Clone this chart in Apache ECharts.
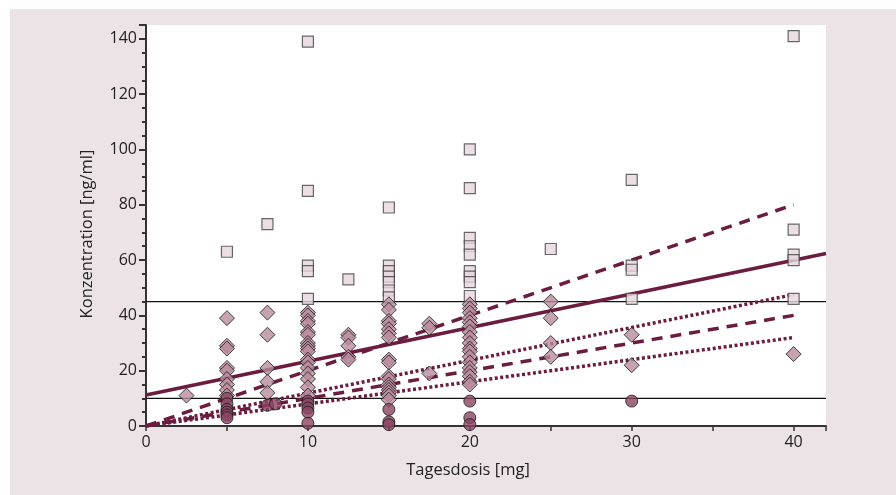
<!DOCTYPE html>
<html><head><meta charset="utf-8">
<script src="https://cdn.jsdelivr.net/npm/echarts@6/dist/echarts.min.js"></script>
<style>html,body{margin:0;padding:0;background:#fff}#c{width:896px;height:495px}</style>
</head><body><div id="c"></div>
<script>
// Squares (light)
const squareX = [5, 7.5, 10, 10, 10, 10, 10, 12.5, 15, 15, 15, 15, 15, 15, 15,
  20, 20, 20, 20, 20, 20, 20, 20, 20, 25, 30, 30, 30, 30, 40, 40, 40, 40, 40];
const squareY = [63, 73, 139, 85, 58, 56, 46, 53, 79, 58, 56, 54, 52, 49, 46.5,
  100, 86, 68, 65, 62, 56, 54, 52, 47, 64, 89, 58, 56.5, 46, 141, 71, 62, 60, 46];
// Diamonds (medium)
const diamondX = [2.5,
  5, 5, 5, 5, 5, 5, 5, 5, 5,
  7.5, 7.5, 7.5, 7.5, 7.5,
  10, 10, 10, 10, 10, 10, 10, 10, 10, 10, 10, 10, 10, 10, 10, 10, 10,
  12.5, 12.5, 12.5, 12.5, 12.5,
  15, 15, 15, 15, 15, 15, 15, 15, 15, 15, 15, 15, 15, 15, 15, 15, 15,
  17.5, 17.5, 17.5,
  20, 20, 20, 20, 20, 20, 20, 20, 20, 20, 20, 20, 20, 20, 20, 20, 20, 20,
  25, 25, 25, 25, 30, 30, 40];
const diamondY = [11,
  39, 29, 28, 21, 20, 17, 15, 13, 11,
  41, 33, 21, 16, 12,
  41, 40, 38, 37, 34, 33, 30, 29, 28, 27, 24, 23, 21, 19, 17, 14, 11,
  33, 32, 29, 25, 24,
  44, 42, 38, 37, 35, 33.5, 32, 24, 23, 18, 17, 15, 14, 13, 12, 11, 9.5,
  37, 35.5, 19,
  44, 42.5, 41, 39, 37.5, 36, 34, 32, 30, 28, 27, 25, 23, 21, 19.5, 18, 16, 15,
  45, 39, 30, 25, 33, 22, 26];
// Circles (dark)
const circleX = [5, 5, 5, 5, 5, 5, 7.5, 8, 10, 10, 10, 10, 10, 15, 15, 15, 20, 20, 20, 30];
const circleY = [10, 8, 6, 5, 4, 3, 7.5, 8, 9, 8, 6.5, 5, 1, 6, 1.5, 0.5, 9, 3, 0.5, 9];
// Regression / reference lines
const solidLine = [[0, 11.2], [42, 62.4]];
const dashUpper = [[0, 0], [40, 80]];
const dashLower = [[0, 0], [40, 40]];
const dotUpper = [[0, 0], [40, 47.5]];
const dotLower = [[0, 0], [40, 32]];
const refLevels = [45, 10];
const xTicks = [0, 10, 20, 30, 40];
const yTicks = [0, 20, 40, 60, 80, 100, 120, 140];

const zip = (xs, ys) => xs.map((x, i) => [x, ys[i]]);
const lineCol = '#6b1c40';
const font = 'Open Sans';

const chart = echarts.init(document.getElementById('c'), null, {renderer: 'canvas'});
const series = [];
refLevels.forEach(v => series.push({
  type: 'line', data: [[0, v], [42, v]], symbol: 'none', silent: true,
  lineStyle: {color: '#111', width: 1.2}, z: 1
}));
const mkLine = (d, type) => ({
  type: 'line', data: d, symbol: 'none', silent: true, z: 2,
  lineStyle: {color: lineCol, width: 3.5, type: type, cap: 'butt'}
});
series.push(mkLine(solidLine, 'solid'));
series.push(mkLine(dashUpper, [11, 8]));
series.push(mkLine(dashLower, [11, 8]));
series.push(mkLine(dotUpper, [3, 2.5]));
series.push(mkLine(dotLower, [3, 2.5]));
series.push({type: 'scatter', data: zip(squareX, squareY), symbol: 'rect', symbolSize: 11, z: 3,
  itemStyle: {color: '#e6d6dd', borderColor: '#444', borderWidth: 1.2}});
series.push({type: 'scatter', data: zip(diamondX, diamondY), symbol: 'diamond', symbolSize: 15, z: 4,
  itemStyle: {color: '#b98b9d', borderColor: '#1a1a1a', borderWidth: 1}});
series.push({type: 'scatter', data: zip(circleX, circleY), symbol: 'circle', symbolSize: 12, z: 5,
  itemStyle: {color: '#8a4562', borderColor: '#1a1a1a', borderWidth: 1}});

chart.setOption({
  animation: false,
  backgroundColor: '#fff',
  graphic: [
    {type: 'rect', shape: {x: 10, y: 9, width: 886, height: 486}, style: {fill: '#ebe3e6'}, z: -10, silent: true},
    {type: 'text', x: 87, y: 234, rotation: Math.PI / 2, style: {text: 'Konzentration [ng/ml]', font: '16.5px "Open Sans"', fill: '#222', align: 'center', verticalAlign: 'middle'}},
    {type: 'text', x: 468, y: 470, style: {text: 'Tagesdosis [mg]', font: '16.5px "Open Sans"', fill: '#222', align: 'center', verticalAlign: 'middle'}}
  ],
  grid: {left: 146, top: 25, right: 70, bottom: 69, show: true, backgroundColor: '#fff', borderWidth: 0},
  xAxis: {
    type: 'value', min: 0, max: 42, interval: 10,
    axisLine: {show: true, lineStyle: {color: '#333', width: 2}},
    axisTick: {show: true, length: 5, lineStyle: {color: '#333', width: 1.5}},
    minorTick: {show: true, splitNumber: 2, length: 5, lineStyle: {color: '#333', width: 1.5}},
    splitLine: {show: false},
    axisLabel: {showMaxLabel: false, color: '#222', fontFamily: font, fontSize: 16, margin: 8,
      formatter: v => xTicks.includes(v) ? String(v) : ''}
  },
  yAxis: {
    type: 'value', min: 0, max: 145, interval: 20,
    axisLine: {show: true, lineStyle: {color: '#333', width: 2}},
    axisTick: {show: true, length: 7, lineStyle: {color: '#333', width: 2}},
    minorTick: {show: true, splitNumber: 4, length: 4, lineStyle: {color: '#333', width: 2}},
    splitLine: {show: false},
    axisLabel: {showMaxLabel: false, color: '#222', fontFamily: font, fontSize: 16, margin: 9,
      formatter: v => yTicks.includes(v) ? String(v) : ''}
  },
  series: series
});
</script></body></html>
